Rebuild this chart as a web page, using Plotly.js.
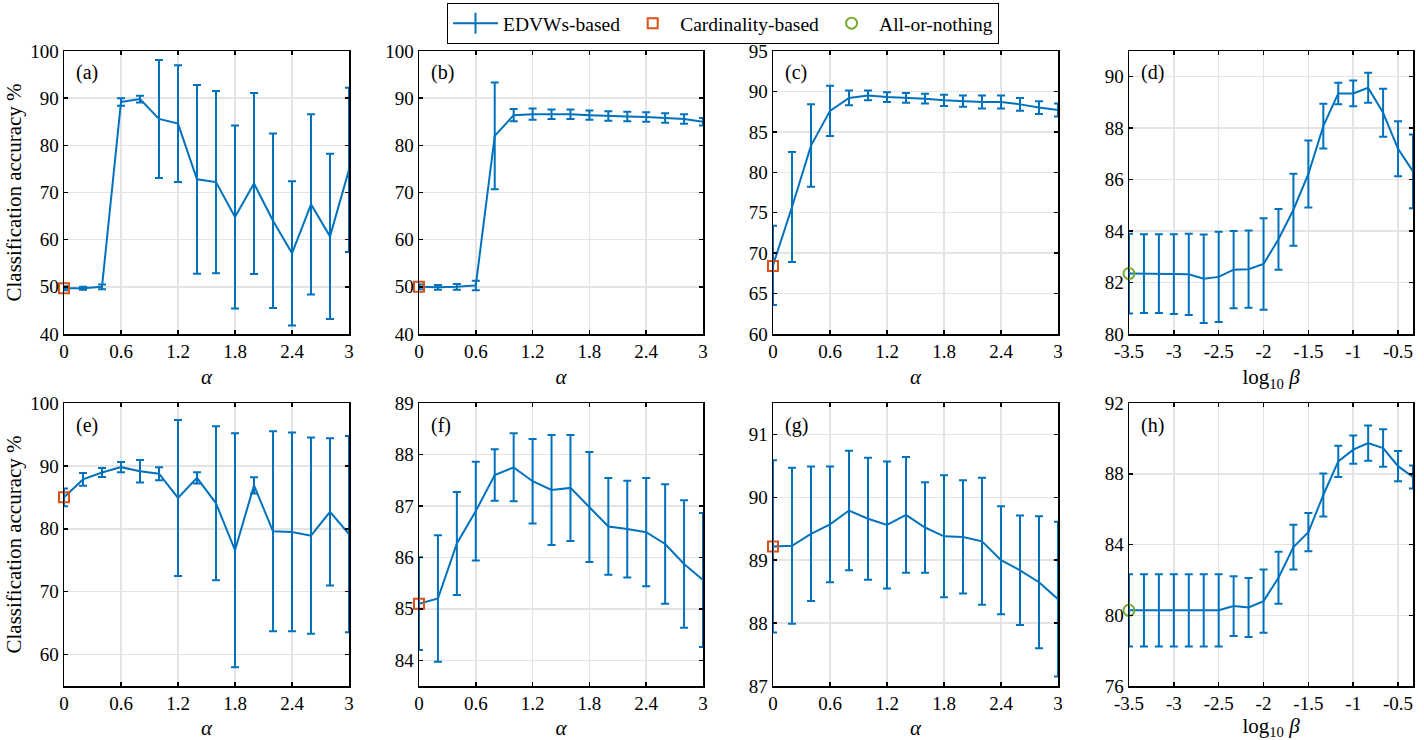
<!DOCTYPE html>
<html>
<head>
<meta charset="utf-8">
<script src="https://cdn.plot.ly/plotly-3.0.1.min.js"></script>
<style>
html,body{margin:0;padding:0;background:#fff;}
#chart{width:1424px;height:740px;}
</style>
</head>
<body>
<div id="chart"></div>
<script>
// ---------- data ----------
const alpha = [0, 0.2, 0.4, 0.6, 0.8, 1.0, 1.2, 1.4, 1.6, 1.8, 2.0, 2.2, 2.4, 2.6, 2.8, 3.0];
const logBeta = [-3.5, -3.3333, -3.1667, -3.0, -2.8333, -2.6667, -2.5, -2.3333, -2.1667, -2.0,
                 -1.8333, -1.6667, -1.5, -1.3333, -1.1667, -1.0, -0.8333, -0.6667, -0.5, -0.3333];

const meanA = [49.7, 49.7, 50.0, 89.2, 89.8, 85.6, 84.6, 72.8, 72.2, 64.8, 71.9, 64.0, 57.1, 67.5, 60.7, 74.8];
const errA  = [0.4, 0.3, 0.5, 0.8, 0.7, 12.5, 12.4, 20.0, 19.3, 19.4, 19.2, 18.5, 15.3, 19.1, 17.5, 17.4];
const cardA = 49.7;

const meanB = [50.0, 49.9, 50.0, 50.3, 82.0, 86.4, 86.6, 86.6, 86.6, 86.4, 86.2, 86.1, 86.0, 85.8, 85.6, 85.0];
const errB  = [0.5, 0.5, 0.6, 1.0, 11.3, 1.3, 1.2, 1.0, 1.0, 1.0, 1.0, 1.0, 1.0, 1.0, 1.0, 0.8];
const cardB = 50.0;

const meanC = [68.5, 75.7, 83.3, 87.6, 89.2, 89.5, 89.3, 89.2, 89.1, 88.9, 88.8, 88.7, 88.7, 88.4, 88.0, 87.7];
const errC  = [4.9, 6.8, 5.1, 3.1, 0.9, 0.6, 0.6, 0.6, 0.6, 0.7, 0.7, 0.8, 0.8, 0.8, 0.8, 0.8];
const cardC = 68.4;

const meanD = [82.35, 82.35, 82.35, 82.33, 82.32, 82.15, 82.22, 82.5, 82.52, 82.72,
               83.68, 84.83, 86.22, 88.08, 89.35, 89.35, 89.57, 88.6, 87.2, 86.32];
const errD  = [1.55, 1.53, 1.53, 1.55, 1.58, 1.72, 1.75, 1.5, 1.5, 1.78,
               1.18, 1.4, 1.3, 0.87, 0.42, 0.5, 0.58, 0.93, 1.07, 1.43];
const allD = 82.35;

const meanE = [85.0, 87.85, 88.95, 89.8, 89.15, 88.75, 84.9, 88.1, 84.05, 76.6, 86.9, 79.6, 79.5, 78.9, 82.7, 79.15];
const errE  = [1.4, 1.0, 0.7, 0.8, 1.8, 1.05, 12.4, 0.9, 12.25, 18.6, 1.3, 15.9, 15.8, 15.6, 11.7, 15.6];
const cardE = 85.0;

const meanF = [85.1, 85.2, 86.27, 86.9, 87.6, 87.75, 87.48, 87.31, 87.35, 86.98, 86.6, 86.55, 86.49, 86.26, 85.87, 85.56];
const errF  = [0.9, 1.23, 1.0, 0.96, 0.5, 0.66, 0.82, 1.07, 1.03, 1.07, 0.94, 0.94, 1.05, 1.16, 1.24, 1.3];
const cardF = 85.1;

const meanG = [89.22, 89.23, 89.42, 89.57, 89.79, 89.66, 89.56, 89.72, 89.52, 89.38, 89.37, 89.3, 89.0, 88.84, 88.65, 88.38];
const errG  = [1.37, 1.24, 1.07, 0.92, 0.95, 0.97, 1.01, 0.92, 0.72, 0.97, 0.9, 1.01, 0.86, 0.87, 1.05, 1.23];
const cardG = 89.22;

const meanH = [80.28, 80.28, 80.28, 80.28, 80.28, 80.28, 80.28, 80.52, 80.44, 80.8,
               82.12, 83.85, 84.7, 86.8, 88.7, 89.36, 89.73, 89.45, 88.43, 87.82];
const errH  = [2.04, 2.04, 2.04, 2.04, 2.04, 2.04, 2.04, 1.69, 1.67, 1.79,
               1.47, 1.26, 1.08, 1.21, 0.88, 0.8, 1.0, 1.06, 0.85, 0.65];
const allH = 80.28;

const alphaTicks = [0, 0.6, 1.2, 1.8, 2.4, 3];
const alphaTickText = ['0', '0.6', '1.2', '1.8', '2.4', '3'];
const betaTicks = [-3.5, -3, -2.5, -2, -1.5, -1, -0.5];
const betaTickText = ['-3.5', '-3', '-2.5', '-2', '-1.5', '-1', '-0.5'];

const yTicksA = [40, 50, 60, 70, 80, 90, 100];
const yTicksB = [40, 50, 60, 70, 80, 90, 100];
const yTicksC = [60, 65, 70, 75, 80, 85, 90, 95];
const yTicksD = [80, 82, 84, 86, 88, 90];
const yTicksE = [60, 70, 80, 90, 100];
const yTicksF = [84, 85, 86, 87, 88, 89];
const yTicksG = [87, 88, 89, 90, 91];
const yTicksH = [76, 80, 84, 88, 92];

const panelLabels = ['(a)', '(b)', '(c)', '(d)', '(e)', '(f)', '(g)', '(h)'];
const seriesNames = ['EDVWs-based', 'Cardinality-based', 'All-or-nothing'];

// ---------- styling ----------
const BLUE = '#0072BD', ORANGE = '#D95319', GREEN = '#77AC30';
const FONT = '"Liberation Serif", "Times New Roman", serif';
const W = 1424, H = 740;

const panels = [
  {mean: meanA, err: errA, ref: cardA, kind: 'card', x: alpha, yr: [40, 100], yt: yTicksA},
  {mean: meanB, err: errB, ref: cardB, kind: 'card', x: alpha, yr: [40, 100], yt: yTicksB},
  {mean: meanC, err: errC, ref: cardC, kind: 'card', x: alpha, yr: [60, 95], yt: yTicksC},
  {mean: meanD, err: errD, ref: allD, kind: 'all', x: logBeta, yr: [80, 91], yt: yTicksD},
  {mean: meanE, err: errE, ref: cardE, kind: 'card', x: alpha, yr: [55, 100], yt: yTicksE},
  {mean: meanF, err: errF, ref: cardF, kind: 'card', x: alpha, yr: [83.5, 89], yt: yTicksF},
  {mean: meanG, err: errG, ref: cardG, kind: 'card', x: alpha, yr: [87, 91.5], yt: yTicksG},
  {mean: meanH, err: errH, ref: allH, kind: 'all', x: logBeta, yr: [76, 92], yt: yTicksH}
];

const colPx = [[64, 349], [419, 703], [773, 1058], [1129, 1413]];
const rowPx = [[51, 334], [403, 686]];

const traces = [];
const layout = {
  width: W, height: H,
  margin: {l: 0, r: 0, t: 0, b: 0},
  paper_bgcolor: '#fff', plot_bgcolor: '#fff',
  font: {family: FONT, size: 19, color: '#000'},
  showlegend: true,
  legend: {
    orientation: 'h', x: 447 / W, y: 1 - 3 / H, xanchor: 'left', yanchor: 'top',
    bordercolor: '#000', borderwidth: 1, bgcolor: '#fff',
    font: {family: FONT, size: 19.5, color: '#000'},
    itemwidth: 45, tracegroupgap: 0
  },
  annotations: []
};

// legend entry for the error-bar series (line with a vertical bar glyph)
traces.push({
  type: 'scatter', mode: 'lines+markers', x: [null], y: [null], xaxis: 'x', yaxis: 'y',
  name: seriesNames[0], showlegend: true, legendrank: 1, hoverinfo: 'skip',
  line: {color: BLUE, width: 2},
  marker: {symbol: 'line-ns-open', size: 15, color: BLUE, line: {color: BLUE, width: 2}}
});

let shownCard = false, shownAll = false;
panels.forEach((p, i) => {
  const n = i + 1;
  const xa = 'x' + (n === 1 ? '' : n), ya = 'y' + (n === 1 ? '' : n);
  const xkey = 'xaxis' + (n === 1 ? '' : n), ykey = 'yaxis' + (n === 1 ? '' : n);
  const col = i % 4, row = Math.floor(i / 4);
  const isAlpha = p.kind === 'card';

  traces.push({
    type: 'scatter', mode: 'lines', x: p.x, y: p.mean, xaxis: xa, yaxis: ya,
    name: seriesNames[0], showlegend: false,
    line: {color: BLUE, width: 2},
    error_y: {type: 'data', array: p.err, visible: true, color: BLUE, thickness: 2, width: 4},
    cliponaxis: true
  });

  const isCard = p.kind === 'card';
  const showRef = isCard ? !shownCard : !shownAll;
  if (isCard) shownCard = true; else shownAll = true;
  traces.push({
    type: 'scatter', mode: 'markers', x: [p.x[0]], y: [p.ref], xaxis: xa, yaxis: ya,
    name: isCard ? seriesNames[1] : seriesNames[2], showlegend: showRef,
    legendrank: isCard ? 2 : 3,
    marker: {symbol: isCard ? 'square-open' : 'circle-open', size: isCard ? 10 : 11,
             color: isCard ? ORANGE : GREEN, line: {width: 2, color: isCard ? ORANGE : GREEN}},
    cliponaxis: false
  });

  layout[xkey] = {
    domain: [colPx[col][0] / W, colPx[col][1] / W],
    anchor: ya,
    range: isAlpha ? [0, 3] : [-3.5, -0.3333],
    tickmode: 'array',
    tickvals: isAlpha ? alphaTicks : betaTicks,
    ticktext: isAlpha ? alphaTickText : betaTickText,
    ticks: 'inside', ticklen: 4, tickwidth: 1.5, tickcolor: '#000',
    showline: true, linecolor: '#000', linewidth: 1.5, mirror: 'allticks',
    showgrid: true, gridcolor: '#e4e4e4', gridwidth: 1.5,
    zeroline: false,
    tickfont: {family: FONT, size: 19, color: '#000'},
    title: {text: isAlpha ? '<i>α</i>' : 'log<sub>10</sub> <i>β</i>', standoff: 8,
            font: {family: FONT, size: 21, color: '#000'}},
    automargin: false, fixedrange: true
  };
  layout[ykey] = {
    domain: [(H - rowPx[row][1]) / H, (H - rowPx[row][0]) / H],
    anchor: xa,
    range: p.yr,
    tickmode: 'array', tickvals: p.yt,
    ticks: 'inside', ticklen: 4, tickwidth: 1.5, tickcolor: '#000',
    showline: true, linecolor: '#000', linewidth: 1.5, mirror: 'allticks',
    showgrid: true, gridcolor: '#e4e4e4', gridwidth: 1.5,
    zeroline: false,
    tickfont: {family: FONT, size: 19, color: '#000'},
    automargin: false, fixedrange: true
  };

  layout.annotations.push({
    xref: xa + ' domain', yref: ya + ' domain', x: 0.035, y: 1 - 22 / 283,
    xanchor: 'left', yanchor: 'middle', showarrow: false, text: panelLabels[i],
    font: {family: FONT, size: 20, color: '#000'}
  });
  if (col === 0) {
    layout.annotations.push({
      xref: 'paper', yref: ya + ' domain', x: 13 / W, y: 0.5,
      xanchor: 'center', yanchor: 'middle', showarrow: false, textangle: -90,
      text: 'Classification accuracy %', font: {family: FONT, size: 21, color: '#000'}
    });
  }
});

Plotly.newPlot('chart', traces, layout, {displayModeBar: false, staticPlot: true});
</script>
</body>
</html>
